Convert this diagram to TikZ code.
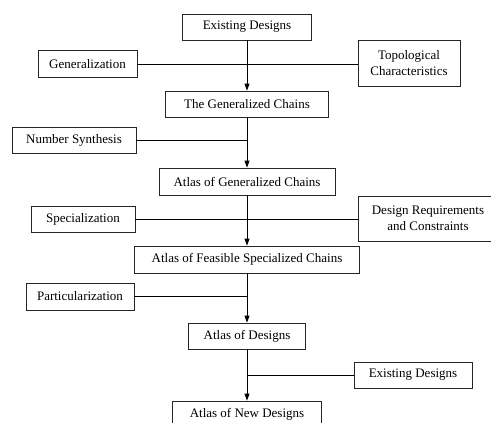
\documentclass[tikz,border=0pt]{standalone}
\usepackage{fontspec}
\setmainfont{Liberation Serif}
\usetikzlibrary{arrows.meta,calc}
\begin{document}
\begin{tikzpicture}[x=1pt,y=-1pt,
  box/.style={draw=black!85,line width=0.8pt,rectangle,inner sep=0pt,align=center,
    font=\fontsize{13}{15.5}\selectfont},
  link/.style={draw=black,line width=0.8pt},
  arr/.style={link,-{Triangle[width=5pt,length=7pt]}}]
\useasboundingbox (0,0) rectangle (491,423);
\clip (0,0) rectangle (491,423);
\fill[white] (0,0) rectangle (491,423);
\node[box,minimum width=129pt,minimum height=26pt] (ed1) at (247,27) {Existing Designs};
\node[box,minimum width=99pt,minimum height=27pt] (gen) at (87.5,64) {Generalization};
\node[box,minimum width=102pt,minimum height=46pt] (topo) at (409,63) {Topological\\Characteristics};
\node[box,minimum width=163pt,minimum height=26pt] (tgc) at (247,104) {The Generalized Chains};
\node[box,minimum width=124pt,minimum height=26pt] (ns) at (74,140) {Number Synthesis};
\node[box,minimum width=176pt,minimum height=27pt] (agc) at (247,181.5) {Atlas of Generalized Chains};
\node[box,minimum width=104pt,minimum height=26pt] (spec) at (83,219) {Specialization};
\node[box,minimum width=140pt,minimum height=45pt] (dr) at (428,218.5) {Design Requirements\\and Constraints};
\node[box,minimum width=225pt,minimum height=27pt] (afsc) at (247,259.5) {Atlas of Feasible Specialized Chains};
\node[box,minimum width=108pt,minimum height=27pt] (part) at (80,296.5) {Particularization};
\node[box,minimum width=117pt,minimum height=26pt] (ad) at (247,336) {Atlas of Designs};
\node[box,minimum width=118pt,minimum height=26pt] (ed2) at (413,375) {Existing Designs};
\node[box,minimum width=149pt,minimum height=26pt] (and) at (247,414) {Atlas of New Designs};
% spine arrows
\draw[arr] (ed1.south) -- (tgc.north);
\draw[arr] (tgc.south) -- (agc.north);
\draw[arr] (agc.south) -- (afsc.north);
\draw[arr] (afsc.south) -- (ad.north);
\draw[arr] (ad.south) -- (and.north);
% side links
\draw[link] (gen.east) -- (gen.east -| topo.west);
\coordinate (j1) at (ns.east -| tgc.south);
\draw[link] (ns.east) -- (j1);
\draw[link] (spec.east) -- (spec.east -| dr.west);
\coordinate (j2) at (part.east -| afsc.south);
\draw[link] (part.east) -- (j2);
\coordinate (j3) at (ed2.west -| ad.south);
\draw[link] (ed2.west) -- (j3);
\end{tikzpicture}
\end{document}
